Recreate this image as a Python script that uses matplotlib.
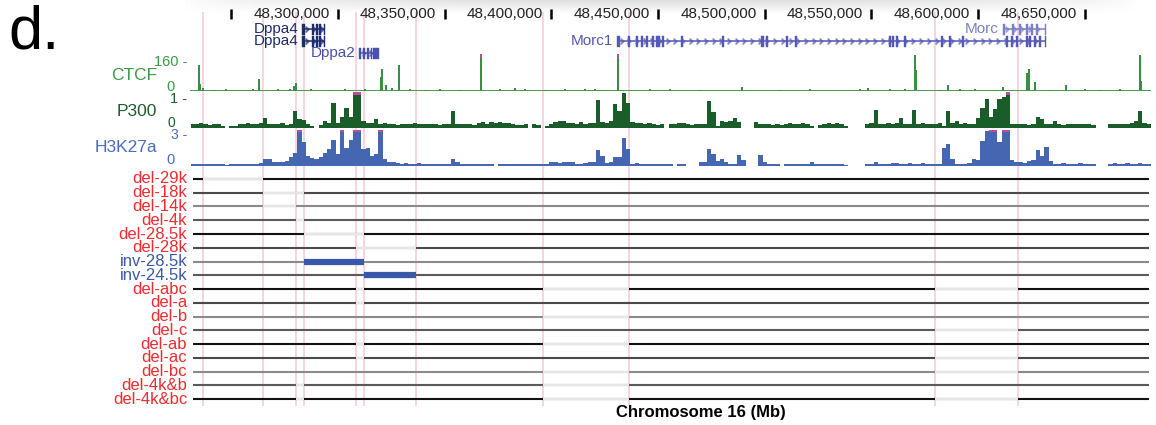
import numpy as np
import matplotlib.pyplot as plt

plt.rcParams['font.family'] = ['Liberation Sans', 'DejaVu Sans']

W, H = 1156, 425

# chr16 window, in kb
view = (48230.7, 48681.0)
region = (48232.0, 48680.0)
ruler_ticks = [48250, 48300, 48350, 48400, 48450, 48500, 48550, 48600, 48650]

# P300 / H3K27ac signal, 2 kb bins starting at bin_start
bin_start = 48231.0
bin_size = 2.0
p300 = [
    0.12, 0.10, 0.14, 0.12, 0.08, 0.12, 0.10, 0.06, 0.00, 0.06, 0.05, 0.12, 0.12, 0.14, 0.12,
    0.12, 0.14, 0.27, 0.12, 0.10, 0.12, 0.13, 0.08, 0.12, 0.46, 0.25, 0.22, 0.10, 0.05, 0.00,
    0.08, 0.20, 0.15, 0.69, 0.15, 0.30, 0.55, 0.30, 1.20, 1.20, 0.20, 0.15, 0.15, 0.25, 0.12,
    0.15, 0.10, 0.12, 0.08, 0.12, 0.10, 0.12, 0.14, 0.10, 0.12, 0.10, 0.10, 0.12, 0.08, 0.12,
    0.12, 0.48, 0.12, 0.12, 0.12, 0.10, 0.08, 0.15, 0.18, 0.10, 0.18, 0.15, 0.18, 0.15, 0.15,
    0.10, 0.08, 0.08, 0.10, 0.00, 0.12, 0.08, 0.00, 0.05, 0.12, 0.18, 0.20, 0.20, 0.15, 0.15,
    0.12, 0.18, 0.10, 0.15, 0.15, 0.78, 0.18, 0.15, 0.20, 0.67, 0.48, 0.98, 0.70, 0.18, 0.15,
    0.15, 0.12, 0.15, 0.10, 0.08, 0.10, 0.00, 0.12, 0.10, 0.15, 0.15, 0.10, 0.08, 0.12, 0.10,
    0.12, 0.75, 0.45, 0.05, 0.20, 0.18, 0.20, 0.28, 0.18, 0.00, 0.00, 0.00, 0.18, 0.10, 0.10,
    0.10, 0.08, 0.12, 0.08, 0.10, 0.15, 0.12, 0.10, 0.15, 0.10, 0.05, 0.00, 0.08, 0.12, 0.15,
    0.10, 0.15, 0.10, 0.05, 0.00, 0.00, 0.00, 0.00, 0.10, 0.15, 0.50, 0.12, 0.12, 0.15, 0.12,
    0.15, 0.28, 0.12, 0.10, 0.50, 0.12, 0.15, 0.12, 0.10, 0.12, 0.15, 0.05, 0.48, 0.15, 0.20,
    0.12, 0.15, 0.12, 0.10, 0.28, 0.55, 0.80, 0.30, 0.52, 0.80, 0.85, 1.20, 0.12, 0.12, 0.10,
    0.10, 0.08, 0.10, 0.30, 0.25, 0.12, 0.12, 0.20, 0.10, 0.08, 0.12, 0.10, 0.10, 0.12, 0.10,
    0.12, 0.08, 0.00, 0.00, 0.00, 0.12, 0.10, 0.12, 0.10, 0.12, 0.15, 0.20, 0.46, 0.15, 0.12,
]
h3k27ac = [
    0.15, 0.20, 0.20, 0.15, 0.20, 0.20, 0.15, 0.20, 0.12, 0.20, 0.20, 0.15, 0.20, 0.20, 0.15,
    0.20, 0.25, 0.60, 0.55, 0.30, 0.30, 0.30, 0.45, 0.70, 1.10, 3.20, 2.00, 0.80, 0.65, 0.55,
    0.75, 1.10, 1.40, 2.10, 1.00, 3.20, 1.50, 2.10, 3.20, 3.20, 1.40, 1.50, 0.80, 1.00, 3.20,
    0.60, 0.35, 0.30, 0.25, 0.20, 0.25, 0.20, 0.20, 0.25, 0.20, 0.20, 0.15, 0.20, 0.15, 0.20,
    0.15, 0.55, 0.30, 0.20, 0.20, 0.20, 0.20, 0.20, 0.20, 0.15, 0.20, 0.00, 0.20, 0.20, 0.20,
    0.15, 0.20, 0.20, 0.20, 0.15, 0.20, 0.20, 0.15, 0.15, 0.30, 0.30, 0.25, 0.30, 0.35, 0.30,
    0.20, 0.20, 0.25, 0.30, 0.30, 1.30, 0.80, 0.25, 0.30, 0.70, 0.75, 2.30, 1.40, 0.20, 0.25,
    0.20, 0.20, 0.20, 0.15, 0.20, 0.20, 0.15, 0.15, 0.00, 0.20, 0.20, 0.00, 0.00, 0.00, 0.30,
    0.35, 1.40, 1.00, 0.45, 0.60, 0.30, 0.15, 0.15, 0.90, 0.50, 0.00, 0.00, 0.00, 0.90, 0.35,
    0.20, 0.15, 0.20, 0.00, 0.20, 0.20, 0.15, 0.20, 0.15, 0.20, 0.30, 0.20, 0.20, 0.15, 0.20,
    0.15, 0.20, 0.15, 0.10, 0.00, 0.00, 0.00, 0.00, 0.20, 0.20, 0.30, 0.20, 0.15, 0.20, 0.25,
    0.25, 0.20, 0.20, 0.25, 0.20, 0.20, 0.25, 0.20, 0.15, 0.15, 0.20, 1.50, 1.80, 0.60, 0.20,
    0.20, 0.20, 0.25, 0.55, 0.50, 2.05, 2.90, 3.20, 3.20, 2.00, 3.20, 3.20, 0.50, 0.30, 0.30,
    0.25, 0.40, 0.50, 1.30, 0.80, 1.60, 0.40, 0.20, 0.20, 0.25, 0.15, 0.20, 0.20, 0.25, 0.20,
    0.20, 0.20, 0.00, 0.00, 0.00, 0.20, 0.25, 0.15, 0.20, 0.25, 0.20, 0.20, 0.25, 0.20, 0.20,
]

# CTCF peaks (kb, signal)
ctcf_pos = [48234.9, 48235.6, 48237.0, 48242.4, 48247.5, 48254.1, 48260.2, 48263.0, 48271.9,
            48277.5, 48279.4, 48280.3, 48287.4, 48296.3, 48303.3, 48312.6, 48320.0, 48320.6,
            48322.5, 48325.3, 48328.6, 48333.7, 48340.8, 48347.8, 48357.2, 48367.0, 48375.9,
            48382.9, 48387.6, 48397.0, 48406.3, 48415.7, 48420.4, 48425.1, 48431.2, 48446.2,
            48455.5, 48469.6, 48489.3, 48507.1, 48521.1, 48544.6, 48548.3, 48558.6, 48565.6,
            48570.3, 48570.8, 48582.0, 48585.8, 48591.4, 48598.4, 48611.6, 48622.8, 48623.7,
            48626.5, 48633.6, 48641.1, 48650.0, 48657.0, 48666.4, 48675.7, 48676.4]
ctcf_val = [111, 30, 12, 6, 8, 6, 8, 52, 8,
            10, 22, 34, 8, 6, 8, 10, 59, 96,
            28, 12, 111, 8, 6, 8, 6, 200, 8,
            12, 8, 6, 8, 8, 10, 6, 200, 8,
            8, 6, 18, 6, 8, 8, 12, 8, 10,
            155, 90, 6, 27, 8, 10, 18, 80, 96,
            40, 6, 27, 8, 6, 8, 155, 45]

# gene models: exons as (start kb, width kb)
dppa4_exons = [(48283.3, 1.3), (48288.0, 0.7), (48289.9, 0.7), (48291.3, 0.7), (48293.3, 0.7)]
dppa2_exons = [(48310.0, 0.7), (48311.9, 0.7), (48313.8, 0.7), (48315.5, 0.7), (48316.5, 2.8)]
morc1_exons = [(48430.9, 1.2), (48436.0, 0.7), (48439.8, 0.7), (48442.1, 0.7), (48444.5, 0.7),
               (48447.3, 0.7), (48449.2, 0.7), (48450.1, 0.7), (48452.0, 0.7), (48460.9, 0.7),
               (48480.1, 0.7), (48498.3, 1.2), (48500.7, 0.7), (48510.1, 0.7), (48514.3, 0.7),
               (48558.3, 0.7), (48559.7, 0.7), (48561.6, 0.7), (48565.3, 0.7), (48582.7, 0.7),
               (48586.4, 0.7), (48592.5, 0.7), (48613.1, 0.7), (48615.5, 0.7), (48617.8, 0.7),
               (48622.5, 0.7), (48623.9, 0.7), (48626.2, 0.7), (48628.6, 0.7), (48631.2, 0.7)]
morc_exons = [(48611.5, 1.2), (48616.0, 0.7), (48619.2, 0.7), (48622.5, 0.7), (48624.8, 0.7),
              (48627.2, 0.7), (48631.2, 0.7)]

# deletion / inversion alleles (kb)
bounds = [48236.8, 48264.9, 48280.3, 48284.1, 48308.4, 48312.2, 48336.5,
          48396.0, 48436.3, 48579.7, 48618.6]
allele_names = ['del-29k', 'del-18k', 'del-14k', 'del-4k', 'del-28.5k', 'del-28k',
                'inv-28.5k', 'inv-24.5k', 'del-abc', 'del-a', 'del-b', 'del-c',
                'del-ab', 'del-ac', 'del-bc', 'del-4k&b', 'del-4k&bc']
seg_a = (48308.4, 48312.2)
seg_b = (48396.0, 48436.3)
seg_c = (48579.7, 48618.6)
seg_4k = (48280.3, 48284.1)
allele_spans = [
    [(48236.8, 48264.9)],
    [(48264.9, 48284.1)],
    [(48264.9, 48280.3)],
    [seg_4k],
    [(48284.1, 48312.2)],
    [(48308.4, 48336.5)],
    [(48284.1, 48312.2)],
    [(48312.2, 48336.5)],
    [seg_a, seg_b, seg_c],
    [seg_a],
    [seg_b],
    [seg_c],
    [seg_a, seg_b],
    [seg_a, seg_c],
    [seg_b, seg_c],
    [seg_4k, seg_b],
    [seg_4k, seg_b, seg_c],
]

ctcf_col = '#3a8f42'
p300_col = '#1b5c2b'
h3k_col = '#4566b0'
clip_col = '#c04a9c'
pink = '#f7c9d5'
red = '#ee2b2f'
inv_col = '#3a58a8'

fig = plt.figure(figsize=(W / 100, H / 100), dpi=100)


def add_ax(top, bottom, left=190, right=1151):
    ax = fig.add_axes([left / W, 1 - bottom / H, (right - left) / W, (bottom - top) / H])
    ax.set_xlim(*view)
    ax.axis('off')
    ax.patch.set_alpha(0)
    return ax


def ftext(x, y, s, **kw):
    fig.text(x / W, 1 - y / H, s, **kw)


# faint shadow along the top edge (scan artefact in the original), fading out
shade = fig.add_axes([180 / W, 1 - 14 / H, 960 / W, 14 / H])
vert = np.linspace(1.0, 0.0, 14)[:, None]
horiz = np.sin(np.linspace(0, np.pi, 200))[None, :] ** 0.6
rgba = np.zeros((14, 200, 4))
rgba[..., :3] = 0.55
rgba[..., 3] = 0.28 * vert * horiz
shade.imshow(rgba, aspect='auto')
shade.axis('off')

# pink boundary lines behind everything
bg = add_ax(12, 406)
bg.set_ylim(0, 1)
for b in bounds:
    bg.axvline(b, color=pink, lw=1.1)

# ruler and genes
gx = add_ax(0, 60)
gx.set_ylim(60, 0)
gx.vlines(ruler_ticks, 9, 19, color='black', lw=1.8)
for t in ruler_ticks[1:]:
    gx.annotate(f'{t * 1000:,}', xy=(t, 14), xytext=(-6, 0), textcoords='offset points',
                ha='right', va='center', fontsize=11, color='#222222')


def draw_gene(ax, exons, y, color, name):
    start = exons[0][0]
    end = exons[-1][0] + exons[-1][1]
    ax.plot([start, end], [y, y], color=color, lw=1.1, solid_capstyle='butt')
    chev = np.arange(start + 2.0, end - 1.0, 3.6)
    ax.plot(chev, [y] * len(chev), ls='none', marker='$›$', ms=4, color=color, alpha=0.55)
    ax.broken_barh(exons, (y - 5.5, 11), facecolor=color, edgecolor=color, lw=0.3)
    ax.annotate(name, xy=(start, y), xytext=(-3, 0), textcoords='offset points',
                ha='right', va='center', fontsize=11, color=color)


draw_gene(gx, dppa4_exons, 29, '#1e2c6c', 'Dppa4')
draw_gene(gx, dppa4_exons, 41, '#1e2c6c', 'Dppa4')
draw_gene(gx, dppa2_exons, 53, '#4b4fae', 'Dppa2')
draw_gene(gx, morc_exons, 29, '#7c7ec6', 'Morc')
draw_gene(gx, morc1_exons, 41, '#5558b4', 'Morc1')


def draw_signal(ax, pos, vals, width, vmax, color):
    pos = np.asarray(pos, dtype=float)
    vals = np.asarray(vals, dtype=float)
    ax.set_ylim(0, vmax)
    ax.bar(pos, np.minimum(vals, vmax), width=width, align='edge', color=color, lw=0)
    over = vals > vmax
    ax.bar(pos[over], vmax * 0.08, bottom=vmax * 0.92, width=width, align='edge',
           color=clip_col, lw=0)


ctcf_ax = add_ax(54, 91)
draw_signal(ctcf_ax, np.array(ctcf_pos) - 0.45, ctcf_val, 0.9, 160, ctcf_col)
ctcf_ax.plot(view, [2, 2], color=ctcf_col, lw=2)

bins = bin_start + bin_size * np.arange(len(p300))
p300_ax = add_ax(92, 128)
draw_signal(p300_ax, bins, p300, bin_size, 1.0, p300_col)

h3k_ax = add_ax(129.5, 166)
draw_signal(h3k_ax, bins, h3k27ac, bin_size, 3.0, h3k_col)

# track labels and scales
ftext(157, 75, 'CTCF', ha='right', va='center', fontsize=12.5, color='#3b9a46')
ftext(157, 112, 'P300', ha='right', va='center', fontsize=12.5, color='#1d5e2e')
ftext(157, 148, 'H3K27a', ha='right', va='center', fontsize=12.5, color='#4a6cc0')
ftext(187, 62, '160 -', ha='right', va='center', fontsize=10.5, color='#3b9a46')
ftext(175, 87, '0', ha='right', va='center', fontsize=10.5, color='#3b9a46')
ftext(187, 99, '1 -', ha='right', va='center', fontsize=10.5, color='#1d5e2e')
ftext(175, 123, '0', ha='right', va='center', fontsize=10, color='#1d5e2e')
ftext(187, 135, '3 -', ha='right', va='center', fontsize=10, color='#4a6cc0')
ftext(175, 160, '0', ha='right', va='center', fontsize=10.5, color='#4a6cc0')

# allele rows
rows = add_ax(172.1, 406)
rows.set_ylim(len(allele_names) - 0.5, -0.5)
line_cols = ['#111111', '#4a4a4a', '#8a8a8a', '#5a5a5a']
for k, (name, spans) in enumerate(zip(allele_names, allele_spans)):
    rows.plot(region, [k, k], color=line_cols[k % 4], lw=1.5, solid_capstyle='butt')
    is_inv = name.startswith('inv')
    for s, e in spans:
        if is_inv:
            rows.plot([s, e], [k, k], color=inv_col, lw=4.5, solid_capstyle='butt')
        else:
            rows.plot([s, e], [k, k], color='#e6e6e6', lw=1.6, solid_capstyle='butt')
    rows.text(-0.003, k, name, transform=rows.get_yaxis_transform(), ha='right', va='center',
              fontsize=12, color=inv_col if is_inv else red)

ftext(8, 33, 'd.', ha='left', va='center', fontsize=44, color='black')
ftext(701, 413, 'Chromosome 16 (Mb)', ha='center', va='center', fontsize=12,
      fontweight='bold', color='black')

fig.savefig('out.png', dpi=100)
